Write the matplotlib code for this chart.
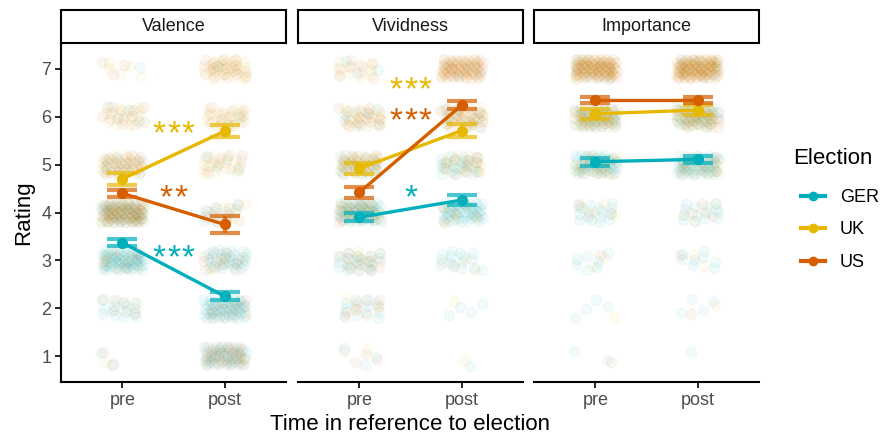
import numpy as np
import matplotlib.pyplot as plt
from matplotlib.lines import Line2D
from matplotlib.patches import Rectangle
import matplotlib.transforms as mtransforms

plt.rcParams['font.family'] = ['Liberation Sans', 'DejaVu Sans']

facets = ['Valence', 'Vividness', 'Importance']
groups = ['GER', 'UK', 'US']
times = ['pre', 'post']
ratings = [1, 2, 3, 4, 5, 6, 7]
colors = {'GER': '#00AFBB', 'UK': '#E7B800', 'US': '#D55E00'}

# mean rating [pre, post] per facet and group
mean_valence = {'GER': [3.37, 2.25], 'UK': [4.70, 5.70], 'US': [4.40, 3.75]}
mean_vividness = {'GER': [3.90, 4.26], 'UK': [4.92, 5.71], 'US': [4.42, 6.24]}
mean_importance = {'GER': [5.06, 5.11], 'UK': [6.06, 6.14], 'US': [6.35, 6.35]}

# standard errors [pre, post]
se_valence = {'GER': [0.07, 0.08], 'UK': [0.12, 0.13], 'US': [0.08, 0.17]}
se_vividness = {'GER': [0.08, 0.10], 'UK': [0.12, 0.13], 'US': [0.12, 0.08]}
se_importance = {'GER': [0.08, 0.08], 'UK': [0.10, 0.10], 'US': [0.07, 0.07]}

# number of answers per rating 1..7, [pre, post] (estimated from the raw dots)
n_valence = {
    'GER': [[2, 15, 60, 45, 10, 4, 1], [40, 50, 30, 10, 4, 2, 1]],
    'UK': [[1, 3, 5, 25, 20, 15, 5], [1, 1, 3, 6, 14, 18, 25]],
    'US': [[2, 4, 8, 50, 25, 12, 3], [30, 12, 12, 10, 10, 12, 20]],
}
n_vividness = {
    'GER': [[3, 12, 20, 50, 20, 8, 3], [1, 4, 15, 42, 22, 10, 4]],
    'UK': [[1, 3, 6, 15, 25, 18, 10], [1, 1, 3, 6, 14, 20, 24]],
    'US': [[4, 8, 12, 20, 20, 15, 8], [0, 0, 1, 5, 10, 25, 50]],
}
n_importance = {
    'GER': [[2, 4, 7, 16, 45, 35, 12], [1, 4, 8, 14, 45, 35, 13]],
    'UK': [[0, 1, 2, 4, 15, 30, 42], [0, 1, 2, 4, 14, 28, 45]],
    'US': [[1, 0, 1, 3, 10, 25, 60], [0, 1, 1, 3, 10, 25, 60]],
}

# significance stars: (label, group, rating position)
stars_valence = [('***', 'UK', 5.77), ('**', 'US', 4.45), ('***', 'GER', 3.20)]
stars_vividness = [('***', 'UK', 6.70), ('***', 'US', 6.05), ('*', 'GER', 4.45)]
stars_importance = []

means = [mean_valence, mean_vividness, mean_importance]
ses = [se_valence, se_vividness, se_importance]
counts = [n_valence, n_vividness, n_importance]
stars = [stars_valence, stars_vividness, stars_importance]

W, H = 892, 434
fig = plt.figure(figsize=(W / 100, H / 100), dpi=100)

panel_left = [61, 298, 534]
panel_w = 225
top, bottom = 43, 382
strip_top = 10

# R2 low-discrepancy sequence for the jitter
a1 = 0.7548776662
a2 = 0.5698402910

for f in range(3):
    ax = fig.add_axes([panel_left[f] / W, 1 - bottom / H, panel_w / W, (bottom - top) / H])
    k = f * 1000
    # jittered raw answers
    for gname in groups:
        for t in range(2):
            xs, ys = [], []
            for r, n in zip(ratings, counts[f][gname][t]):
                for i in range(n):
                    k += 1
                    xs.append(t + 1 + ((0.5 + k * a1) % 1 - 0.5) * 0.42)
                    ys.append(r + ((0.5 + k * a2) % 1 - 0.5) * 0.42)
            ax.scatter(xs, ys, s=55, facecolor=colors[gname], edgecolor=colors[gname],
                       alpha=0.05, linewidths=0.9, zorder=1)
    # means and error bars
    for gname in groups:
        m = means[f][gname]
        e = ses[f][gname]
        ax.errorbar([1, 2], m, yerr=e, fmt='none', ecolor=colors[gname], alpha=0.7,
                    elinewidth=3, capsize=11, capthick=3, zorder=3)
        ax.plot([1, 2], m, color=colors[gname], lw=2.4, marker='o', ms=7, zorder=4)
    # stars, one glyph at a time so they get the wider spacing of the original
    for label, gname, y in stars[f]:
        n = len(label)
        for j in range(n):
            dx = (j - (n - 1) / 2) * 14.5 / 100
            tr = ax.transData + mtransforms.ScaledTranslation(dx, -16 / 100,
                                                              fig.dpi_scale_trans)
            ax.text(1.5, y, '*', color=colors[gname], fontsize=24, ha='center',
                    va='baseline', transform=tr, zorder=5)

    ax.set_xlim(0.4, 2.6)
    ax.set_ylim(0.46, 7.54)
    ax.set_xticks([1, 2])
    ax.set_xticklabels(times)
    for s in ['top', 'right']:
        ax.spines[s].set_visible(False)
    ax.spines['bottom'].set_linewidth(1.5)
    ax.tick_params(axis='x', length=4, width=1.2, colors='black', labelcolor='#4D4D4D',
                   labelsize=13, pad=3)
    if f == 0:
        ax.spines['left'].set_linewidth(1.5)
        ax.set_yticks(ratings)
        ax.tick_params(axis='y', length=4, width=1.2, colors='black', labelcolor='#4D4D4D',
                       labelsize=13, pad=3)
        ax.set_ylabel('Rating', fontsize=16, labelpad=5)
    else:
        ax.spines['left'].set_visible(False)
        ax.set_yticks([])

    # strip
    fig.patches.append(Rectangle((panel_left[f] / W, 1 - top / H), panel_w / W,
                                 (top - strip_top) / H, transform=fig.transFigure,
                                 facecolor='white', edgecolor='black', lw=1.5))
    fig.text((panel_left[f] + panel_w / 2) / W, 1 - (top + strip_top) / 2 / H, facets[f],
             ha='center', va='center', fontsize=13, color='#1A1A1A')

fig.text((61 + 759) / 2 / W, 1 - 424 / H, 'Time in reference to election',
         ha='center', va='center', fontsize=16)

# legend
fig.text(793 / W, 1 - 158 / H, 'Election', ha='left', va='center', fontsize=16)
handles = [Line2D([], [], color=colors[gname], lw=3, marker='o', ms=6) for gname in groups]
fig.legend(handles, groups, loc='center left', bbox_to_anchor=(785 / W, 1 - 230 / H),
           frameon=False, fontsize=13, handlelength=1.3, labelspacing=0.85,
           handletextpad=0.85)

fig.savefig('out.png', dpi=100)
